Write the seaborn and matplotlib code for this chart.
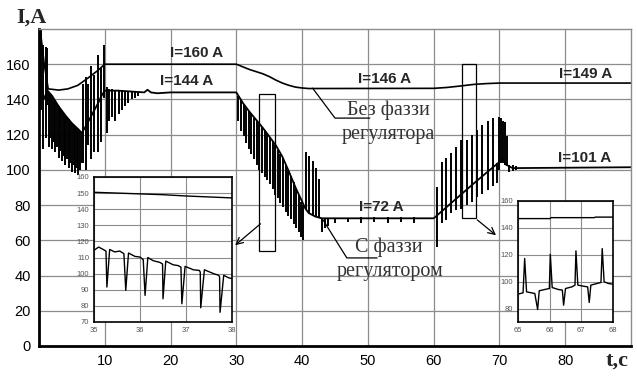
import numpy as np
import pandas as pd
import seaborn as sns
import matplotlib.pyplot as plt
import matplotlib.patches as patches

# ---- main curve without fuzzy regulator (upper) ----
t_nofuzzy = [0.3, 0.8, 1.4, 3.0, 4.4, 5.9, 7.4, 9.0, 10.0, 30.0, 32.0, 34.0, 35.0, 36.0, 37.0,
             38.0, 39.0, 40.0, 41.0, 42.0, 60.0, 62.0, 64.0, 66.0, 68.0, 70.0, 90.0]
i_nofuzzy = [176, 160, 146, 145.3, 146, 148, 152, 156.6, 160, 160, 157, 154.6, 153, 151, 149.3,
             148, 147, 146.5, 146.2, 146.2, 146.3, 146.8, 147.6, 148.5, 149, 149.3, 149.3]

# ---- main curve with fuzzy regulator (lower): envelope ----
t_fuzzy = [0.3, 0.7, 1.3, 2.0, 3.0, 4.0, 5.0, 6.0, 6.5, 7.0, 7.5, 8.0, 8.5, 9.0, 9.5, 10.0,
           12.0, 14.0, 16.0, 16.5, 17.0, 18.0, 20.0, 30.0, 31.0, 32.0, 33.0, 34.0, 35.0, 36.0,
           37.0, 38.0, 39.0, 40.0, 40.5, 41.0, 42.0, 43.0, 60.0, 62.0, 64.0, 66.0, 68.0, 70.0,
           70.5, 71.0, 72.0, 90.0]
i_fuzzy = [150, 140, 145, 142, 136, 131, 126.5, 123, 121, 124, 127.5, 131, 134.5, 138, 142, 145,
           145, 144.5, 144, 145.5, 144, 143.5, 144, 144, 138, 133, 128.5, 124, 119, 114,
           107.5, 99, 90, 82, 78, 75.5, 73.5, 72.5, 72.5, 79, 85.5, 92, 98.3, 104.5,
           106, 103, 101, 101.5]

# ---- oscillation spikes of the fuzzy curve: time, low end, high end ----
spike_t = [0.35, 0.65, 1.0, 1.2,
           1.5, 1.75, 2.0, 2.25, 2.5, 2.75, 3.0, 3.25, 3.5, 3.75, 4.0, 4.25, 4.5, 4.75, 5.0,
           5.25, 5.5, 5.75, 6.0, 6.25, 6.5,
           6.7, 7.1, 7.5, 7.9, 8.4, 8.9, 9.4, 9.9,
           10.3, 10.7, 11.1, 11.6, 12.1, 12.6, 13.1, 13.6, 14.1, 14.6, 15.1,
           30.3, 30.7, 31.1, 31.5, 31.9, 32.3, 32.7, 33.1, 33.5, 33.9, 34.3, 34.7, 35.1, 35.5,
           35.9, 36.3, 36.7, 37.1, 37.5, 37.9, 38.3, 38.7, 39.1, 39.5, 39.9, 40.2,
           40.6, 41.1, 41.6, 42.1, 42.5,
           43.0, 43.5, 44.0, 45.0, 47.0, 49.0, 51.0, 53.0, 55.0, 57.0,
           60.5, 61.2, 61.9, 62.6, 63.4, 64.1, 65.0, 65.8, 66.6, 67.3, 68.2, 69.0, 69.6,
           69.9, 70.3, 70.6, 70.9, 71.2, 71.5, 72.0, 72.5]
spike_lo = [134, 112, 118, 137,
            113, 118, 112, 116, 110, 113, 107, 111, 105, 108, 103, 106, 101, 104, 99,
            103, 98, 101, 97, 100, 104,
            104, 100, 114, 106, 110, 110, 116, 141,
            121, 128, 130, 128, 132, 134, 136, 138, 140, 141, 142,
            128, 122, 119, 115, 112, 109, 106, 103, 100, 98, 96, 94, 92, 89,
            86, 84, 81, 79, 76, 74, 72, 69, 67, 65, 62, 60,
            78, 75.5, 74, 73.5, 73,
            65, 67, 68, 70, 70.5, 70, 70.5, 70, 70.5, 70,
            56, 70, 71.5, 75.5, 77, 78, 80, 82, 84.5, 86.5, 88.5, 91, 92.5,
            100, 104, 104, 103, 102, 99, 99.5, 100]
spike_hi = [180, 171, 170, 169,
            144.5, 143.5, 142, 140.5, 139, 137.5, 136, 135, 133.5, 132.5, 131, 130, 129, 127.5, 126.5,
            125.5, 124.5, 124, 123, 122, 121,
            149, 153, 149, 159, 154, 165, 158, 171,
            147, 146, 146, 145.5, 145.5, 145, 145, 145, 144.5, 144.5, 144.5,
            142, 139.5, 137.5, 135.5, 133.5, 131.5, 129.5, 127.5, 126, 124.5, 122.5, 120.5, 118.5, 116.5,
            114, 111.5, 109, 106.5, 103, 100, 96.5, 93, 89, 85.5, 82, 80,
            110, 108, 105, 101, 95,
            72.5, 72.5, 72.5, 72.5, 72.5, 73, 73, 73, 73, 73,
            90, 104.5, 107, 109.5, 113, 117, 117, 120, 122.5, 125.5, 128, 129.5, 104,
            130, 129.5, 128, 127, 119, 103, 102.5, 102]

# ---- inset 35..38 s ----
ins1_t_top = [35.0, 35.5, 36.0, 36.5, 37.0, 37.5, 38.0]
ins1_i_top = [150.5, 150.0, 149.5, 149.0, 148.2, 147.6, 147.0]
ins1_t = [35.0, 35.1, 35.2, 35.26, 35.28, 35.34, 35.45, 35.56, 35.65, 35.69, 35.75, 35.89,
          36.0, 36.07, 36.11, 36.17, 36.29, 36.43, 36.49, 36.5, 36.56, 36.72, 36.83, 36.89,
          36.91, 36.98, 37.16, 37.29, 37.31, 37.32, 37.4, 37.6, 37.71, 37.73, 37.74, 37.82,
          37.92, 38.0]
ins1_i = [114.5, 116.5, 115, 114, 91.7, 115, 113.5, 114, 112.4, 89.6, 112.8, 110.7,
          110.3, 108.7, 86.5, 110, 108, 107, 106, 84.4, 107.8, 105.5, 105, 104,
          81.3, 104.5, 102.4, 102, 101, 78.8, 102.4, 100, 99, 98, 76, 99,
          97.5, 96.9]

# ---- inset 65..68 s ----
ins2_t_top = [65.0, 66.0, 66.05, 67.4, 67.45, 68.0]
ins2_i_top = [146.9, 146.9, 147.6, 147.6, 148.0, 148.0]
ins2_t = [65.0, 65.16, 65.21, 65.27, 65.42, 65.53, 65.62, 65.67, 65.85, 65.99, 66.02, 66.08,
          66.27, 66.4, 66.44, 66.5, 66.7, 66.8, 66.83, 66.89, 67.07, 67.2, 67.25, 67.3,
          67.49, 67.62, 67.66, 67.72, 67.86, 68.0]
ins2_i = [90.7, 91.7, 117.2, 92.4, 91.7, 91.2, 79.3, 93.2, 94.2, 94.9, 120.4, 95.6,
          94.2, 93.7, 82.5, 94.9, 96.1, 97.4, 122.9, 97.4, 96.6, 96.1, 84.5, 97.4,
          98.6, 99.4, 124.6, 99.9, 98.6, 98.1]

# ---- value labels ----
lab_text = ["I=160 A", "I=144 A", "I=146 A", "I=149 A", "I=101 A", "I=72 A"]
lab_t = [23.9, 22.5, 52.6, 83.1, 83.0, 52.1]
lab_i = [166.3, 150.4, 151.5, 154.4, 106.7, 78.9]

x_ticks = [10, 20, 30, 40, 50, 60, 70, 80]
y_ticks = [0, 20, 40, 60, 80, 100, 120, 140, 160]

sns.set_theme(style="whitegrid")
plt.rcParams['font.family'] = ['Liberation Sans', 'DejaVu Sans']

fig = plt.figure(figsize=(6.37, 3.81), dpi=100)
ax = fig.add_axes([0.0612, 0.0919, 0.9294, 0.832])

df_no = pd.DataFrame({"t": t_nofuzzy, "I": i_nofuzzy})
df_fz = pd.DataFrame({"t": t_fuzzy, "I": i_fuzzy})
sns.lineplot(data=df_no, x="t", y="I", ax=ax, color="black", linewidth=1.2,
             estimator=None, errorbar=None)
sns.lineplot(data=df_fz, x="t", y="I", ax=ax, color="black", linewidth=1.3,
             estimator=None, errorbar=None)
ax.vlines(spike_t, spike_lo, spike_hi, color="black", linewidth=1.4)

ax.set_xlim(0, 90)
ax.set_ylim(0, 180)
ax.set_xticks(x_ticks)
ax.set_yticks(y_ticks)
ax.set_xlabel("")
ax.set_ylabel("")
ax.grid(True, color="#8c8c8c", linewidth=0.9)
ax.tick_params(axis="both", labelsize=10.5, colors="black", direction="in", length=3, pad=6)
for s in ["left", "bottom"]:
    ax.spines[s].set_color("black")
    ax.spines[s].set_linewidth(2)
for s in ["top", "right"]:
    ax.spines[s].set_color("#8c8c8c")
    ax.spines[s].set_linewidth(1)

for txt, tx, ty in zip(lab_text, lab_t, lab_i):
    ax.text(tx, ty, txt, ha="center", va="center", fontsize=11, fontweight="bold")

# leader lines and captions
ax.plot([41.6, 45.0, 50.3], [146.4, 129.4, 129.4], color="black", linewidth=0.9)
ax.plot([43.2, 46.8, 51.4], [71.5, 50.0, 50.0], color="black", linewidth=0.9)
serif = ['Liberation Serif', 'DejaVu Serif']
cap_kw = dict(ha="center", va="center", fontsize=14.5, family=serif, color="#333333")
ax.text(53.1, 134.0, "Без фаззи", **cap_kw)
ax.text(53.1, 120.3, "регулятора", **cap_kw)
ax.text(53.2, 56.0, "С фаззи", **cap_kw)
ax.text(53.3, 42.5, "регулятором", **cap_kw)

# zoom rectangles and arrows
ax.add_patch(patches.Rectangle((33.4, 54), 2.5, 89, fill=False, edgecolor="black", linewidth=0.9))
ax.add_patch(patches.Rectangle((64.3, 72.6), 2.1, 87.4, fill=False, edgecolor="black", linewidth=0.9))
ax.annotate("", xy=(29.5, 56.2), xytext=(34.0, 70.4),
            arrowprops=dict(arrowstyle="->", color="black", lw=0.9))
ax.annotate("", xy=(69.8, 61.9), xytext=(66.3, 72.6),
            arrowprops=dict(arrowstyle="->", color="black", lw=0.9))

fig.text(31 / 637, 1 - 18 / 381, "I,A", ha="center", va="center", fontsize=16,
         fontweight="bold", family=serif)
fig.text(617 / 637, 1 - 361 / 381, "t,c", ha="center", va="center", fontsize=16,
         fontweight="bold", family=serif)


def style_inset(a):
    a.set_facecolor("white")
    a.grid(True, color="#8c8c8c", linewidth=0.8)
    a.tick_params(axis="both", labelsize=5.5, colors="#555555", length=2, pad=1.5, direction="out")
    for s in a.spines.values():
        s.set_color("black")
        s.set_linewidth(1.2)
    a.set_xlabel("")
    a.set_ylabel("")


ax1 = fig.add_axes([0.1476, 0.1549, 0.2166, 0.3806])
sns.lineplot(x=ins1_t_top, y=ins1_i_top, ax=ax1, color="black", linewidth=1.0, estimator=None, errorbar=None)
sns.lineplot(x=ins1_t, y=ins1_i, ax=ax1, color="black", linewidth=1.0, estimator=None, errorbar=None)
ax1.set_xlim(35, 38)
ax1.set_ylim(70, 160)
ax1.set_xticks([35, 36, 37, 38])
ax1.set_yticks([70, 80, 90, 100, 110, 120, 130, 140, 150, 160])
style_inset(ax1)

ax2 = fig.add_axes([0.8132, 0.1549, 0.1491, 0.3176])
sns.lineplot(x=ins2_t_top, y=ins2_i_top, ax=ax2, color="black", linewidth=1.0, estimator=None, errorbar=None)
sns.lineplot(x=ins2_t, y=ins2_i, ax=ax2, color="black", linewidth=1.0, estimator=None, errorbar=None)
ax2.set_xlim(65, 68)
ax2.set_ylim(70, 160)
ax2.set_xticks([65, 66, 67, 68])
ax2.set_yticks([80, 100, 120, 140, 160])
style_inset(ax2)

fig.savefig("out.png", dpi=100)
